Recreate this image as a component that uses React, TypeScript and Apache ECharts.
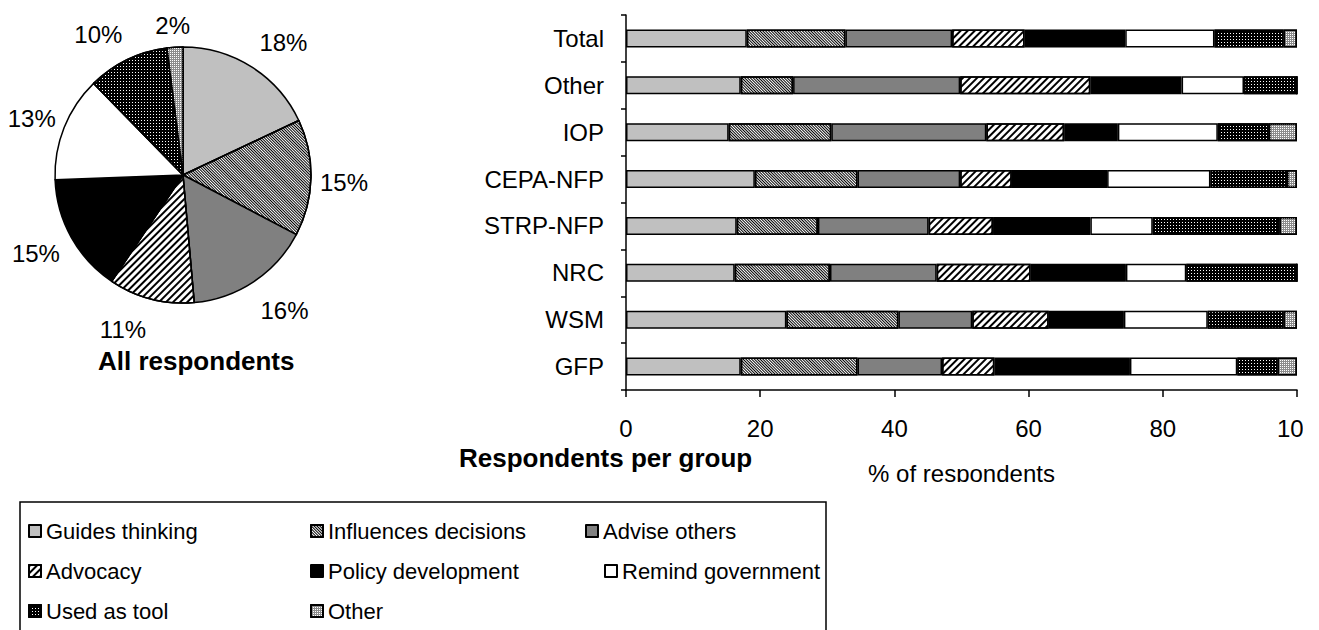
import React, { useEffect, useRef } from "react";
import * as echarts from "echarts";

// ---------- data ----------
const categories = ["Total", "Other", "IOP", "CEPA-NFP", "STRP-NFP", "NRC", "WSM", "GFP"];
const seriesNames = [
  "Guides thinking",
  "Influences decisions",
  "Advise others",
  "Advocacy",
  "Policy development",
  "Remind government",
  "Used as tool",
  "Other",
];
const guidesThinking = [18.0, 17.1, 15.3, 19.2, 16.5, 16.2, 23.9, 17.1];
const influencesDecisions = [14.7, 7.8, 15.3, 15.3, 12.1, 14.2, 16.7, 17.4];
const adviseOthers = [15.9, 24.9, 23.1, 15.3, 16.5, 15.9, 11.0, 12.6];
const advocacy = [10.8, 19.4, 11.6, 7.7, 9.6, 14.0, 11.4, 7.8];
const policyDevelopment = [15.0, 13.6, 8.0, 14.2, 14.5, 14.2, 11.2, 20.2];
const remindGovernment = [13.3, 9.3, 14.9, 15.4, 9.3, 9.0, 12.5, 16.0];
const usedAsTool = [10.3, 7.9, 7.6, 11.4, 18.9, 16.5, 11.3, 6.0];
const otherReason = [2.0, 0, 4.2, 1.5, 2.6, 0, 2.0, 2.9];
// All respondents (pie) = Total row
const allRespondents = [18.0, 14.7, 15.9, 10.8, 15.0, 13.3, 10.3, 2.0];
const xMin = 0;
const xMax = 100;
const xInterval = 20;

const barData = [
  guidesThinking,
  influencesDecisions,
  adviseOthers,
  advocacy,
  policyDevelopment,
  remindGovernment,
  usedAsTool,
  otherReason,
];

// ---------- styles ----------
const FONT = "'Liberation Sans', Arial, Helvetica, sans-serif";
const fills: any[] = [
  { color: "#c0c0c0" },
  {
    color: "#ffffff",
    decal: { color: "#000000", symbol: "rect", symbolSize: 1, dashArrayX: [1, 0], dashArrayY: [1, 1], rotation: Math.PI / 4 },
  },
  { color: "#808080" },
  {
    color: "#ffffff",
    decal: { color: "#000000", symbol: "rect", symbolSize: 1, dashArrayX: [1, 0], dashArrayY: [2, 3], rotation: -Math.PI / 4 },
  },
  { color: "#000000" },
  { color: "#ffffff" },
  {
    color: "#000000",
    decal: { color: "#ffffff", symbol: "rect", symbolSize: 1, dashArrayX: [1, 2], dashArrayY: [1, 2] },
  },
  {
    color: "#8c8c8c",
    decal: { color: "#ffffff", symbol: "rect", symbolSize: 1, dashArrayX: [1, 1], dashArrayY: [1, 1] },
  },
];

// small label nudges (px) so the pie labels sit where the reference places them
const pieLabelNudge = [
  [12, 7],
  [-4, 4],
  [10, -2],
  [-19, -5],
  [-3, -2],
  [2, 5],
  [-13, 8],
  [0, 15],
];

const legendPos = [
  [28, 520],
  [310, 520],
  [585, 520],
  [28, 560],
  [310, 560],
  [604, 560],
  [28, 600],
  [310, 600],
];

function buildBarOption(): any {
  return {
    animation: false,
    textStyle: { fontFamily: FONT },
    title: {
      text: "Respondents per group",
      left: 459,
      top: 445,
      padding: 0,
      textStyle: { fontSize: 26, fontWeight: "bold", color: "#000", fontFamily: FONT },
    },
    grid: { left: 626, top: 15, width: 671, height: 375, containLabel: false, outerBoundsMode: "none" },
    xAxis: {
      type: "value",
      min: xMin,
      max: xMax,
      interval: xInterval,
      name: "% of respondents",
      nameLocation: "middle",
      nameGap: 71,
      nameTextStyle: { fontSize: 24, color: "#000", fontFamily: FONT },
      axisLine: { show: true, lineStyle: { color: "#000", width: 1.5 } },
      axisTick: { show: true, length: 7, lineStyle: { color: "#000", width: 1.5 } },
      axisLabel: { fontSize: 24, color: "#000", margin: 26, fontFamily: FONT },
      splitLine: { show: false },
    },
    yAxis: {
      type: "category",
      data: categories,
      inverse: true,
      axisLine: { show: true, lineStyle: { color: "#000", width: 1.5 } },
      axisTick: { show: true, length: 5, alignWithLabel: false, lineStyle: { color: "#000", width: 1.5 } },
      axisLabel: { fontSize: 24, color: "#000", margin: 22, fontFamily: FONT },
    },
    series: seriesNames.map((name, i) => ({
      type: "bar",
      name,
      stack: "all",
      barWidth: 18,
      data: barData[i],
      itemStyle: { ...fills[i], borderColor: "#000", borderWidth: 1.5 },
      emphasis: { disabled: true },
      silent: true,
    })),
  };
}

function buildPieOption(): any {
  const pieData = seriesNames.map((name, i) => ({
    name,
    value: allRespondents[i],
    itemStyle: { ...fills[i] },
  }));
  const labelData = seriesNames.map((name, i) => ({ name, value: allRespondents[i] }));
  return {
    animation: false,
    textStyle: { fontFamily: FONT },
    title: {
      text: "All respondents",
      left: 98,
      top: 348,
      padding: 0,
      textStyle: { fontSize: 26, fontWeight: "bold", color: "#000", fontFamily: FONT },
    },
    legend: legendPos.map(([left, top], i) => ({
      data: [seriesNames[i]],
      left,
      top,
      padding: 0,
      icon: "rect",
      itemWidth: 12,
      itemHeight: 12,
      selectedMode: false,
      textStyle: { fontSize: 22, color: "#000", fontFamily: FONT },
    })),
    graphic: [
      {
        type: "rect",
        silent: true,
        z: -1,
        shape: { x: 20, y: 502, width: 806, height: 160 },
        style: { fill: "none", stroke: "#000", lineWidth: 1.5 },
      },
    ],
    series: [
      {
        type: "pie",
        name: "All respondents",
        center: [183, 175],
        radius: 128,
        startAngle: 90,
        clockwise: true,
        data: pieData,
        itemStyle: { borderColor: "#000", borderWidth: 1.5 },
        label: { show: false },
        labelLine: { show: false },
        emphasis: { disabled: true },
        silent: true,
      },
      {
        type: "pie",
        name: "labels",
        center: [183, 175],
        radius: [0, 324],
        startAngle: 90,
        clockwise: true,
        percentPrecision: 0,
        data: labelData,
        itemStyle: { color: "rgba(0,0,0,0)", borderWidth: 0 },
        label: {
          show: true,
          position: "inside",
          formatter: "{d}%",
          fontSize: 24,
          color: "#000",
          textBorderWidth: 0,
          fontFamily: FONT,
        },
        labelLayout: (params: any) => {
          const n = pieLabelNudge[params.dataIndex] || [0, 0];
          return { dx: n[0], dy: n[1] };
        },
        labelLine: { show: false },
        emphasis: { disabled: true },
        silent: true,
        z: 1,
      },
    ],
  };
}

export default function App() {
  const pieRef = useRef<HTMLDivElement>(null);
  const barRef = useRef<HTMLDivElement>(null);

  useEffect(() => {
    const pie = echarts.init(pieRef.current!, undefined, { renderer: "svg" });
    pie.setOption(buildPieOption());
    const bar = echarts.init(barRef.current!, undefined, { renderer: "svg" });
    bar.setOption(buildBarOption());
    return () => {
      pie.dispose();
      bar.dispose();
    };
  }, []);

  return (
    <div
      style={{
        position: "fixed",
        left: 0,
        top: 0,
        width: 1319,
        height: 630,
        background: "#ffffff",
        overflow: "hidden",
      }}
    >
      <div ref={pieRef} style={{ position: "absolute", left: 0, top: 0, width: 1319, height: 630 }} />
      <div
        ref={barRef}
        style={{ position: "absolute", left: 0, top: 0, width: 1303, height: 482, overflow: "hidden" }}
      />
    </div>
  );
}
